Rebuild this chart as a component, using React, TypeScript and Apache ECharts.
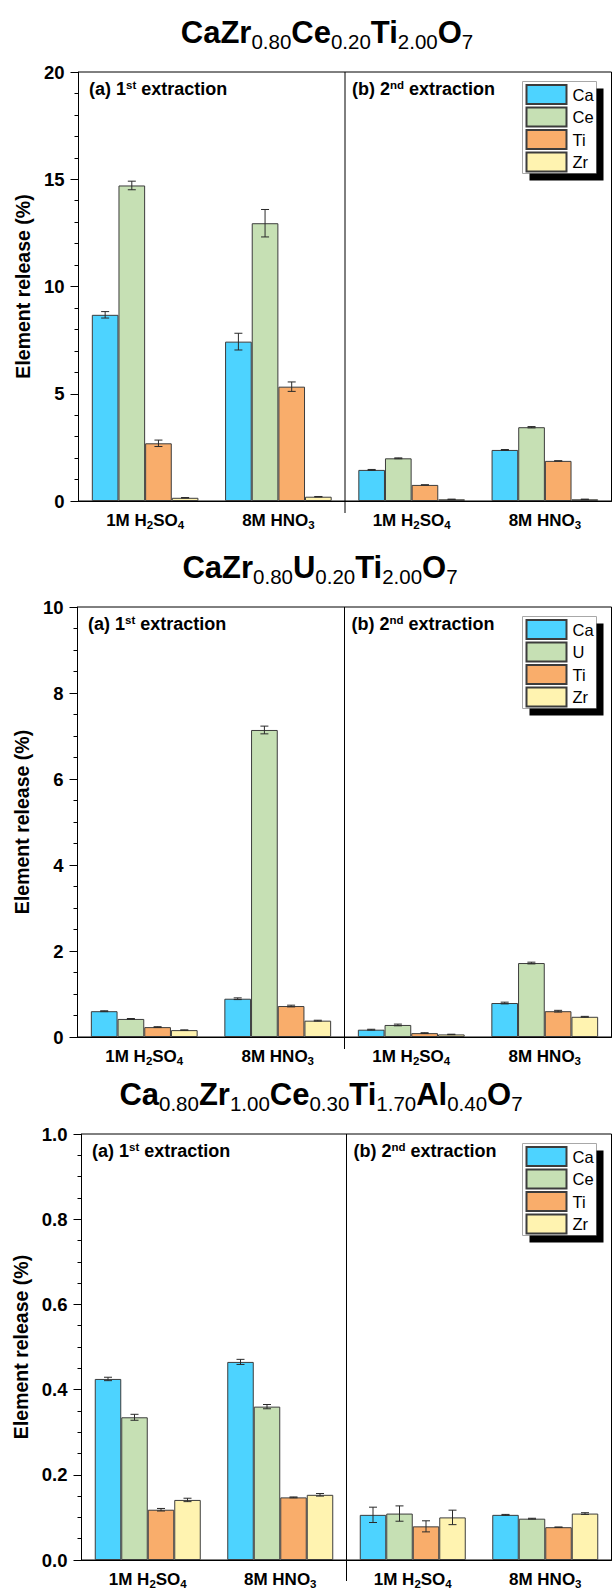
import React, { useEffect, useRef } from "react";
import * as echarts from "echarts";

// ---------- data ----------
const categories = ["1M H2SO4", "8M HNO3", "1M H2SO4", "8M HNO3"];
const titles = [
  "CaZr0.80Ce0.20Ti2.00O7",
  "CaZr0.80U0.20Ti2.00O7",
  "Ca0.80Zr1.00Ce0.30Ti1.70Al0.40O7",
];
const p1Names = ["Ca", "Ce", "Ti", "Zr"];
const p2Names = ["Ca", "U", "Ti", "Zr"];
const p3Names = ["Ca", "Ce", "Ti", "Zr"];

// Panel 1: CaZr0.80Ce0.20Ti2.00O7
const p1Ca = [8.68, 7.43, 1.45, 2.38];
const p1Ce = [14.71, 12.95, 1.99, 3.44];
const p1Ti = [2.69, 5.33, 0.75, 1.87];
const p1Zr = [0.15, 0.2, 0.08, 0.08];
const p1CaErr = [0.15, 0.39, 0.02, 0.02];
const p1CeErr = [0.2, 0.64, 0.02, 0.03];
const p1TiErr = [0.15, 0.22, 0, 0];
const p1ZrErr = [0.01, 0.01, 0, 0];

// Panel 2: CaZr0.80U0.20Ti2.00O7
const p2Ca = [0.6, 0.89, 0.17, 0.79];
const p2U = [0.42, 7.14, 0.28, 1.72];
const p2Ti = [0.23, 0.72, 0.09, 0.6];
const p2Zr = [0.16, 0.38, 0.06, 0.47];
const p2CaErr = [0.01, 0.02, 0.01, 0.02];
const p2UErr = [0.01, 0.09, 0.02, 0.02];
const p2TiErr = [0.01, 0.02, 0.01, 0.02];
const p2ZrErr = [0.005, 0.01, 0.005, 0.01];

// Panel 3: Ca0.80Zr1.00Ce0.30Ti1.70Al0.40O7
const p3Ca = [0.425, 0.465, 0.106, 0.106];
const p3Ce = [0.335, 0.36, 0.109, 0.097];
const p3Ti = [0.118, 0.147, 0.079, 0.077];
const p3Zr = [0.141, 0.153, 0.1, 0.109];
const p3CaErr = [0.004, 0.006, 0.018, 0.001];
const p3CeErr = [0.007, 0.005, 0.018, 0.001];
const p3TiErr = [0.003, 0.001, 0.013, 0.0005];
const p3ZrErr = [0.004, 0.003, 0.017, 0.002];

const yMax = [20, 10, 1];
const yInterval = [5, 2, 0.2];
const yMinorSplit = [5, 4, 4];
const yDecimals = [0, 0, 1];

const colors = ["#4dd3ff", "#c6e0b4", "#f9ad6b", "#fff3b0"];

// ---------- layout ----------
const W = 612;
const H = 1590;
const RIGHT = 611.5;
const layout = [
  { top: 72, bottom: 501, left: 78.5, titleX: 327 },
  { top: 607, bottom: 1037, left: 77.5, titleX: 320 },
  { top: 1134, bottom: 1569, left: 81.5, titleX: 321 },
];
const FONT = "'Liberation Sans', Arial, Helvetica, sans-serif";

function toRich(s: string, n: string, sub: string) {
  const r = "{" + n + "|" + s.replace(/([A-Za-z])([\d.]+)/g, `$1}{${sub}|$2}{${n}|`) + "}";
  return r.replace(new RegExp("\\{" + n + "\\|\\}", "g"), "");
}

export default function App() {
  const ref = useRef<HTMLDivElement>(null);

  useEffect(() => {
    if (!ref.current) return;
    const chart = echarts.init(ref.current, null, { renderer: "svg", width: W, height: H });

    const panels = [
      { names: p1Names, vals: [p1Ca, p1Ce, p1Ti, p1Zr], errs: [p1CaErr, p1CeErr, p1TiErr, p1ZrErr] },
      { names: p2Names, vals: [p2Ca, p2U, p2Ti, p2Zr], errs: [p2CaErr, p2UErr, p2TiErr, p2ZrErr] },
      { names: p3Names, vals: [p3Ca, p3Ce, p3Ti, p3Zr], errs: [p3CaErr, p3CeErr, p3TiErr, p3ZrErr] },
    ];

    const grids: any[] = [];
    const xAxes: any[] = [];
    const yAxes: any[] = [];
    const series: any[] = [];
    const legends: any[] = [];
    const graphics: any[] = [];

    panels.forEach((p, pi) => {
      const L = layout[pi];
      grids.push({
        left: L.left,
        top: L.top,
        width: RIGHT - L.left,
        height: L.bottom - L.top,
        show: true,
        borderColor: "#000",
        borderWidth: 1,
        backgroundColor: "transparent",
      });
      xAxes.push({
        type: "category",
        gridIndex: pi,
        data: categories,
        boundaryGap: true,
        axisLine: { show: true, lineStyle: { color: "#000", width: 1 } },
        axisTick: { show: false },
        splitLine: { show: false },
        axisLabel: {
          margin: 8,
          interval: 0,
          formatter: (v: string) => toRich(v, "n", "s"),
          rich: {
            n: { fontSize: 17, fontWeight: "bold", lineHeight: 22, color: "#000", fontFamily: FONT },
            s: { fontSize: 11.5, fontWeight: "bold", lineHeight: 9, verticalAlign: "bottom", color: "#000", fontFamily: FONT },
          },
        },
      });
      yAxes.push({
        type: "value",
        gridIndex: pi,
        min: 0,
        max: yMax[pi],
        interval: yInterval[pi],
        name: "Element release (%)",
        nameLocation: "middle",
        nameGap: 46,
        nameTextStyle: { fontSize: 19.5, fontWeight: "bold", color: "#000", fontFamily: FONT },
        axisLine: { show: true, lineStyle: { color: "#000", width: 1 } },
        axisTick: { show: true, inside: false, length: 8, lineStyle: { color: "#000" } },
        minorTick: { show: true, splitNumber: yMinorSplit[pi], length: 4, lineStyle: { color: "#000" } },
        splitLine: { show: false },
        minorSplitLine: { show: false },
        axisLabel: {
          margin: 14,
          fontSize: 18.5,
          fontWeight: "bold",
          color: "#000",
          fontFamily: FONT,
          formatter: (v: number) => v.toFixed(yDecimals[pi]),
        },
      });

      p.names.forEach((name, k) => {
        series.push({
          type: "bar",
          name,
          xAxisIndex: pi,
          yAxisIndex: pi,
          data: p.vals[k],
          barGap: "0%",
          barCategoryGap: "20%",
          itemStyle: { color: colors[k], borderColor: "#3c3c3c", borderWidth: 1 },
          emphasis: { disabled: true },
          z: 2,
        });
      });

      const errData: number[][] = [];
      p.vals.forEach((arr, k) => {
        arr.forEach((v, c) => {
          errData.push([c, k, v, p.errs[k][c]]);
        });
      });
      series.push({
        type: "custom",
        xAxisIndex: pi,
        yAxisIndex: pi,
        data: errData,
        encode: { x: 0, y: 2 },
        z: 5,
        silent: true,
        renderItem: (params: any, api: any) => {
          const c = api.value(0);
          const k = api.value(1);
          const v = api.value(2);
          const e = api.value(3);
          const band = api.size([1, 0])[0];
          const bw = (band * 0.8) / 4;
          const cx = api.coord([c, 0])[0] - band * 0.4 + bw * (k + 0.5);
          const yT = api.coord([c, v + e])[1];
          const yB = api.coord([c, v - e])[1];
          const cap = 4;
          const st = { stroke: "#2a2a2a", lineWidth: 1 };
          return {
            type: "group",
            children: [
              { type: "line", shape: { x1: cx, y1: yT, x2: cx, y2: yB }, style: st },
              { type: "line", shape: { x1: cx - cap, y1: yT, x2: cx + cap, y2: yT }, style: st },
              { type: "line", shape: { x1: cx - cap, y1: yB, x2: cx + cap, y2: yB }, style: st },
            ],
          };
        },
      });

      // legend frame with solid drop shadow (L-shaped polygon on right and bottom)
      const boxX = 522.5;
      const boxY = L.top + 9.5;
      const boxW = 74;
      const boxH = 92;
      const sh = 7;
      graphics.push({
        type: "polygon",
        z: 7,
        shape: {
          points: [
            [boxX + boxW, boxY + sh],
            [boxX + boxW + sh, boxY + sh],
            [boxX + boxW + sh, boxY + boxH + sh],
            [boxX + sh, boxY + boxH + sh],
            [boxX + sh, boxY + boxH],
            [boxX + boxW, boxY + boxH],
          ],
        },
        style: { fill: "#000000" },
      });
      graphics.push({
        type: "rect",
        z: 4,
        shape: { x: boxX, y: boxY, width: boxW, height: boxH },
        style: { fill: "#fff", stroke: "#a8a8a8", lineWidth: 1 },
      });
      legends.push({
        orient: "vertical",
        left: boxX + 3,
        top: boxY + 2.5,
        data: p.names,
        icon: "rect",
        itemWidth: 40,
        itemHeight: 19,
        itemGap: 1.5,
        padding: 0,
        backgroundColor: "transparent",
        borderWidth: 0,
        selectedMode: false,
        z: 6,
        textStyle: { fontSize: 16.5, lineHeight: 19, color: "#000", fontFamily: FONT, padding: [0, 0, 0, 1] },
      });

      // divider between extractions
      const mid = (L.left + RIGHT) / 2;
      graphics.push({
        type: "line",
        z: 5,
        shape: { x1: mid, y1: L.top, x2: mid, y2: L.bottom + 12 },
        style: { stroke: "#000", lineWidth: 1 },
      });

      // panel annotations
      const annRich = {
        t: { fontSize: 18, fontWeight: "bold", lineHeight: 20, fill: "#000", fontFamily: FONT },
        u: { fontSize: 11.5, fontWeight: "bold", lineHeight: 10, verticalAlign: "top", fill: "#000", fontFamily: FONT },
      };
      graphics.push({
        type: "text",
        z: 5,
        x: L.left + 10.5,
        y: L.top + 6.5,
        style: {
          text: "{t|(a) 1}{u|st}{t| extraction}",
          rich: annRich,
          align: "left",
          verticalAlign: "top",
        },
      });
      graphics.push({
        type: "text",
        z: 5,
        x: mid + 7,
        y: L.top + 6.5,
        style: {
          text: "{t|(b) 2}{u|nd}{t| extraction}",
          rich: annRich,
          align: "left",
          verticalAlign: "top",
        },
      });

      // panel title
      graphics.push({
        type: "text",
        z: 5,
        x: L.titleX,
        y: L.top - 60,
        style: {
          text: toRich(titles[pi], "m", "s"),
          rich: {
            m: { fontSize: 31, fontWeight: "bold", lineHeight: 40, fill: "#000", fontFamily: FONT },
            s: { fontSize: 20.5, fontWeight: "normal", lineHeight: 19, verticalAlign: "bottom", fill: "#000", fontFamily: FONT },
          },
          align: "center",
          verticalAlign: "top",
        },
      });
    });

    chart.setOption({
      animation: false,
      backgroundColor: "#fff",
      textStyle: { fontFamily: FONT },
      grid: grids,
      xAxis: xAxes,
      yAxis: yAxes,
      legend: legends,
      series,
      graphic: graphics,
    });

    return () => {
      chart.dispose();
    };
  }, []);

  return (
    <div
      ref={ref}
      style={{ position: "absolute", left: 0, top: 0, width: W, height: H, background: "#fff" }}
    />
  );
}
